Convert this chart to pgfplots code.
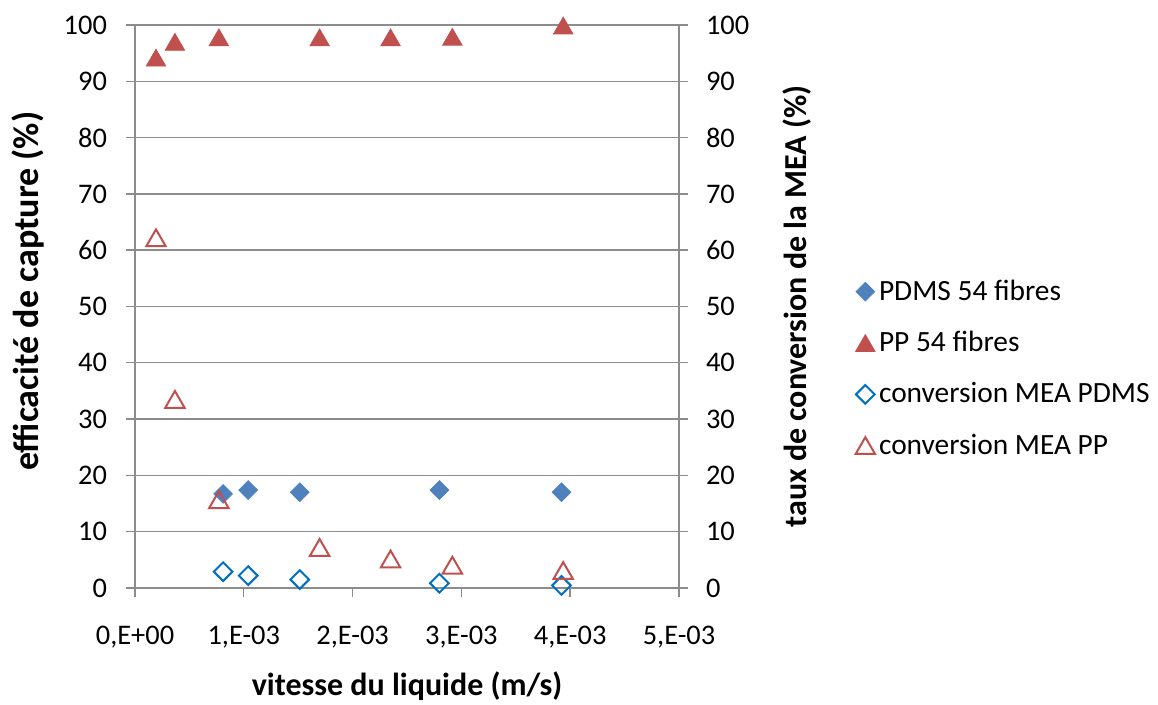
\documentclass[border=0pt]{standalone}
\usepackage{pgfplots}
\pgfplotsset{compat=1.18}
\usepackage{fontspec}
\setmainfont{Carlito}
\definecolor{pdms}{HTML}{4F81BD}
\definecolor{pp}{HTML}{C0504D}
\definecolor{convb}{HTML}{0070C0}
\definecolor{gridc}{HTML}{8C8C8C}
\begin{document}
\begin{tikzpicture}
\useasboundingbox (-67.5pt,-58.5pt) rectangle (511.5pt,294pt);
\begin{axis}[
  at={(0,0)}, anchor=south west,
  scale only axis, width=272pt, height=281.5pt,
  xmin=0, xmax=5e-3, ymin=0, ymax=100,
  xtick={0,1e-3,2e-3,3e-3,4e-3,5e-3},
  xticklabels={{0,E+00},{1,E-03},{2,E-03},{3,E-03},{4,E-03},{5,E-03}},
  scaled x ticks=false,
  ytick={0,10,...,100},
  /pgf/number format/assume math mode=true,
  tick label style={font=\fontsize{14.2}{16}\selectfont, black},
  xticklabel style={yshift=-11pt},
  yticklabel style={xshift=-6pt},
  axis line style={gridc, line width=0.7pt},
  tick style={gridc, line width=0.7pt},
  tick align=outside, major tick length=4.5pt,
  xtick pos=bottom, ytick pos=left,
  ymajorgrids, grid style={gridc, line width=0.7pt},
  xlabel={vitesse du liquide (m/s)},
  ylabel={efficacité de capture (\%)},
  xlabel style={font=\fontsize{16}{18}\selectfont\bfseries, at={(axis description cs:0.5,-0.191)}, anchor=base},
  ylabel style={font=\fontsize{18}{20}\selectfont\bfseries, at={(axis description cs:-0.1967,0.527)}, anchor=center},
  legend style={draw=none, at={(1.324,0.555)}, anchor=north west,
    font=\fontsize{14.7}{17}\selectfont, row sep=10pt, inner sep=0pt,
    legend cell align=left},
  legend image code/.code={\draw[#1] plot coordinates {(0.3em,0pt)};},
]
\addplot[only marks, mark=square*, mark size=3.3pt, mark options={rotate=45, fill=pdms, draw=pdms}]
  coordinates {(0.81e-3,16.7) (1.04e-3,17.4) (1.514e-3,17.0) (2.798e-3,17.4) (3.92e-3,17.0)};
\addlegendentry{PDMS 54 fibres}
\addplot[only marks, mark=triangle*, mark size=5.6pt, mark options={fill=pp, draw=pp, yshift=-1.4pt}]
  coordinates {(0.193e-3,94.2) (0.367e-3,97.0) (0.771e-3,97.8) (1.697e-3,97.8) (2.349e-3,97.8) (2.917e-3,97.9) (3.936e-3,99.9)};
\addlegendentry{PP 54 fibres}
\addplot[only marks, mark=square, mark size=3.3pt, mark options={rotate=45, draw=convb, line width=1pt, fill=white}]
  coordinates {(0.81e-3,2.9) (1.04e-3,2.2) (1.514e-3,1.5) (2.798e-3,0.85) (3.92e-3,0.45)};
\addlegendentry{conversion MEA PDMS}
\addplot[only marks, mark=triangle, mark size=5.6pt, mark options={draw=pp, line width=1pt, fill=white, yshift=-1.4pt}]
  coordinates {(0.193e-3,62.2) (0.367e-3,33.5) (0.771e-3,15.7) (1.697e-3,7.2) (2.349e-3,5.15) (2.917e-3,4.05) (3.936e-3,3.1)};
\addlegendentry{conversion MEA PP}
\end{axis}
\begin{axis}[
  at={(0,0)}, anchor=south west,
  scale only axis, width=272pt, height=281.5pt,
  xmin=0, xmax=5e-3, ymin=0, ymax=100,
  axis x line=none, axis y line*=right,
  ytick={0,10,...,100},
  /pgf/number format/assume math mode=true,
  tick label style={font=\fontsize{14.2}{16}\selectfont, black},
  yticklabel style={xshift=5.5pt},
  axis line style={gridc, line width=0.7pt, -},
  tick style={gridc, line width=0.7pt},
  tick align=outside, major tick length=4.5pt,
  ylabel={taux de conversion de la MEA (\%)},
  ylabel style={font=\fontsize{16}{18}\selectfont\bfseries, at={(axis description cs:1.217,0.5)}, anchor=center},
]
\end{axis}
\end{tikzpicture}
\end{document}
